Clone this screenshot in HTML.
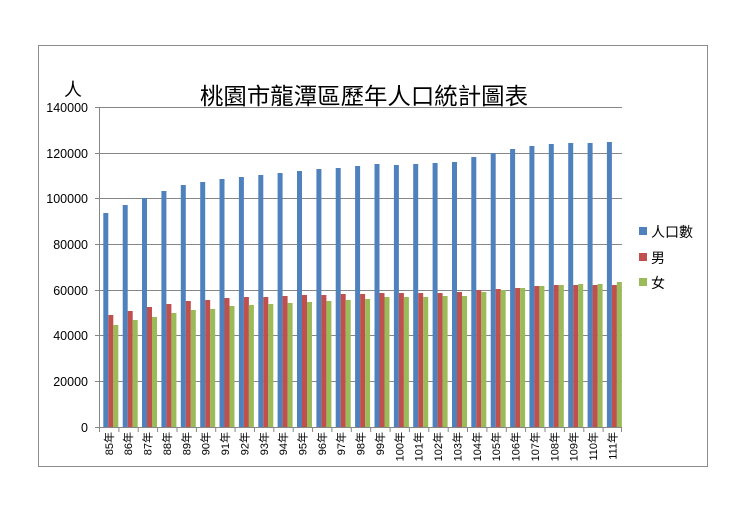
<!DOCTYPE html>
<html><head><meta charset="utf-8"><style>
body{margin:0;background:#fff;}
svg{display:block;font-family:"Liberation Sans","Noto Sans CJK TC",sans-serif;}
</style></head><body>
<svg width="752" height="521" viewBox="0 0 752 521" xmlns="http://www.w3.org/2000/svg">
<rect x="38.5" y="45.5" width="669" height="421" fill="#fff" stroke="#8c8c8c"/>
<text x="364" y="104" font-size="23" text-anchor="middle" textLength="328" lengthAdjust="spacingAndGlyphs" fill="#000">桃園市龍潭區歷年人口統計圖表</text>
<text x="73" y="96" font-size="18" text-anchor="middle">人</text>
<g stroke="#868686" stroke-width="1">
<line x1="99" y1="107.5" x2="622" y2="107.5"/><line x1="99" y1="153.5" x2="622" y2="153.5"/><line x1="99" y1="198.5" x2="622" y2="198.5"/><line x1="99" y1="244.5" x2="622" y2="244.5"/><line x1="99" y1="290.5" x2="622" y2="290.5"/><line x1="99" y1="335.5" x2="622" y2="335.5"/><line x1="99" y1="381.5" x2="622" y2="381.5"/><line x1="95" y1="427.5" x2="622" y2="427.5"/>
<line x1="99.5" y1="107" x2="99.5" y2="427"/>
<line x1="95" y1="107.5" x2="99" y2="107.5"/><line x1="95" y1="153.5" x2="99" y2="153.5"/><line x1="95" y1="198.5" x2="99" y2="198.5"/><line x1="95" y1="244.5" x2="99" y2="244.5"/><line x1="95" y1="290.5" x2="99" y2="290.5"/><line x1="95" y1="335.5" x2="99" y2="335.5"/><line x1="95" y1="381.5" x2="99" y2="381.5"/>
</g>
<g font-size="12.5" text-anchor="end">
<text x="88" y="112">140000</text><text x="88" y="158">120000</text><text x="88" y="203">100000</text><text x="88" y="249">80000</text><text x="88" y="295">60000</text><text x="88" y="340">40000</text><text x="88" y="386">20000</text><text x="88" y="432">0</text>
</g>
<defs><g id="t"><line x1="0.5" y1="427" x2="0.5" y2="432" stroke="#868686"/></g></defs>
<g font-size="11" text-anchor="end">
<g transform="translate(99,0)"><use href="#t"/><rect x="4.3" y="213" width="5" height="214" fill="#4F81BD"/><rect x="9.3" y="315" width="5" height="112" fill="#C0504D"/><rect x="14.3" y="325" width="5" height="102" fill="#9BBB59"/><text transform="translate(13.8,432) rotate(-90)">85年</text></g>
<g transform="translate(118.4,0)"><use href="#t"/><rect x="4.3" y="205" width="5" height="222" fill="#4F81BD"/><rect x="9.3" y="311" width="5" height="116" fill="#C0504D"/><rect x="14.3" y="320" width="5" height="107" fill="#9BBB59"/><text transform="translate(13.8,432) rotate(-90)">86年</text></g>
<g transform="translate(137.7,0)"><use href="#t"/><rect x="4.3" y="198" width="5" height="229" fill="#4F81BD"/><rect x="9.3" y="307" width="5" height="120" fill="#C0504D"/><rect x="14.3" y="317" width="5" height="110" fill="#9BBB59"/><text transform="translate(13.8,432) rotate(-90)">87年</text></g>
<g transform="translate(157.1,0)"><use href="#t"/><rect x="4.3" y="191" width="5" height="236" fill="#4F81BD"/><rect x="9.3" y="304" width="5" height="123" fill="#C0504D"/><rect x="14.3" y="313" width="5" height="114" fill="#9BBB59"/><text transform="translate(13.8,432) rotate(-90)">88年</text></g>
<g transform="translate(176.5,0)"><use href="#t"/><rect x="4.3" y="185" width="5" height="242" fill="#4F81BD"/><rect x="9.3" y="301" width="5" height="126" fill="#C0504D"/><rect x="14.3" y="310" width="5" height="117" fill="#9BBB59"/><text transform="translate(13.8,432) rotate(-90)">89年</text></g>
<g transform="translate(195.9,0)"><use href="#t"/><rect x="4.3" y="182" width="5" height="245" fill="#4F81BD"/><rect x="9.3" y="300" width="5" height="127" fill="#C0504D"/><rect x="14.3" y="309" width="5" height="118" fill="#9BBB59"/><text transform="translate(13.8,432) rotate(-90)">90年</text></g>
<g transform="translate(215.2,0)"><use href="#t"/><rect x="4.3" y="179" width="5" height="248" fill="#4F81BD"/><rect x="9.3" y="298" width="5" height="129" fill="#C0504D"/><rect x="14.3" y="306" width="5" height="121" fill="#9BBB59"/><text transform="translate(13.8,432) rotate(-90)">91年</text></g>
<g transform="translate(234.6,0)"><use href="#t"/><rect x="4.3" y="177" width="5" height="250" fill="#4F81BD"/><rect x="9.3" y="297" width="5" height="130" fill="#C0504D"/><rect x="14.3" y="305" width="5" height="122" fill="#9BBB59"/><text transform="translate(13.8,432) rotate(-90)">92年</text></g>
<g transform="translate(254,0)"><use href="#t"/><rect x="4.3" y="175" width="5" height="252" fill="#4F81BD"/><rect x="9.3" y="297" width="5" height="130" fill="#C0504D"/><rect x="14.3" y="304" width="5" height="123" fill="#9BBB59"/><text transform="translate(13.8,432) rotate(-90)">93年</text></g>
<g transform="translate(273.3,0)"><use href="#t"/><rect x="4.3" y="173" width="5" height="254" fill="#4F81BD"/><rect x="9.3" y="296" width="5" height="131" fill="#C0504D"/><rect x="14.3" y="303" width="5" height="124" fill="#9BBB59"/><text transform="translate(13.8,432) rotate(-90)">94年</text></g>
<g transform="translate(292.7,0)"><use href="#t"/><rect x="4.3" y="171" width="5" height="256" fill="#4F81BD"/><rect x="9.3" y="295" width="5" height="132" fill="#C0504D"/><rect x="14.3" y="302" width="5" height="125" fill="#9BBB59"/><text transform="translate(13.8,432) rotate(-90)">95年</text></g>
<g transform="translate(312.1,0)"><use href="#t"/><rect x="4.3" y="169" width="5" height="258" fill="#4F81BD"/><rect x="9.3" y="295" width="5" height="132" fill="#C0504D"/><rect x="14.3" y="301" width="5" height="126" fill="#9BBB59"/><text transform="translate(13.8,432) rotate(-90)">96年</text></g>
<g transform="translate(331.4,0)"><use href="#t"/><rect x="4.3" y="168" width="5" height="259" fill="#4F81BD"/><rect x="9.3" y="294" width="5" height="133" fill="#C0504D"/><rect x="14.3" y="300" width="5" height="127" fill="#9BBB59"/><text transform="translate(13.8,432) rotate(-90)">97年</text></g>
<g transform="translate(350.8,0)"><use href="#t"/><rect x="4.3" y="166" width="5" height="261" fill="#4F81BD"/><rect x="9.3" y="294" width="5" height="133" fill="#C0504D"/><rect x="14.3" y="299" width="5" height="128" fill="#9BBB59"/><text transform="translate(13.8,432) rotate(-90)">98年</text></g>
<g transform="translate(370.2,0)"><use href="#t"/><rect x="4.3" y="164" width="5" height="263" fill="#4F81BD"/><rect x="9.3" y="293" width="5" height="134" fill="#C0504D"/><rect x="14.3" y="297" width="5" height="130" fill="#9BBB59"/><text transform="translate(13.8,432) rotate(-90)">99年</text></g>
<g transform="translate(389.6,0)"><use href="#t"/><rect x="4.3" y="165" width="5" height="262" fill="#4F81BD"/><rect x="9.3" y="293" width="5" height="134" fill="#C0504D"/><rect x="14.3" y="297" width="5" height="130" fill="#9BBB59"/><text transform="translate(13.8,432) rotate(-90)">100年</text></g>
<g transform="translate(408.9,0)"><use href="#t"/><rect x="4.3" y="164" width="5" height="263" fill="#4F81BD"/><rect x="9.3" y="293" width="5" height="134" fill="#C0504D"/><rect x="14.3" y="297" width="5" height="130" fill="#9BBB59"/><text transform="translate(13.8,432) rotate(-90)">101年</text></g>
<g transform="translate(428.3,0)"><use href="#t"/><rect x="4.3" y="163" width="5" height="264" fill="#4F81BD"/><rect x="9.3" y="293" width="5" height="134" fill="#C0504D"/><rect x="14.3" y="296" width="5" height="131" fill="#9BBB59"/><text transform="translate(13.8,432) rotate(-90)">102年</text></g>
<g transform="translate(447.7,0)"><use href="#t"/><rect x="4.3" y="162" width="5" height="265" fill="#4F81BD"/><rect x="9.3" y="292" width="5" height="135" fill="#C0504D"/><rect x="14.3" y="296" width="5" height="131" fill="#9BBB59"/><text transform="translate(13.8,432) rotate(-90)">103年</text></g>
<g transform="translate(467,0)"><use href="#t"/><rect x="4.3" y="157" width="5" height="270" fill="#4F81BD"/><rect x="9.3" y="290" width="5" height="137" fill="#C0504D"/><rect x="14.3" y="292" width="5" height="135" fill="#9BBB59"/><text transform="translate(13.8,432) rotate(-90)">104年</text></g>
<g transform="translate(486.4,0)"><use href="#t"/><rect x="4.3" y="153" width="5" height="274" fill="#4F81BD"/><rect x="9.3" y="289" width="5" height="138" fill="#C0504D"/><rect x="14.3" y="290" width="5" height="137" fill="#9BBB59"/><text transform="translate(13.8,432) rotate(-90)">105年</text></g>
<g transform="translate(505.8,0)"><use href="#t"/><rect x="4.3" y="149" width="5" height="278" fill="#4F81BD"/><rect x="9.3" y="288" width="5" height="139" fill="#C0504D"/><rect x="14.3" y="288" width="5" height="139" fill="#9BBB59"/><text transform="translate(13.8,432) rotate(-90)">106年</text></g>
<g transform="translate(525.1,0)"><use href="#t"/><rect x="4.3" y="146" width="5" height="281" fill="#4F81BD"/><rect x="9.3" y="286" width="5" height="141" fill="#C0504D"/><rect x="14.3" y="286" width="5" height="141" fill="#9BBB59"/><text transform="translate(13.8,432) rotate(-90)">107年</text></g>
<g transform="translate(544.5,0)"><use href="#t"/><rect x="4.3" y="144" width="5" height="283" fill="#4F81BD"/><rect x="9.3" y="285" width="5" height="142" fill="#C0504D"/><rect x="14.3" y="285" width="5" height="142" fill="#9BBB59"/><text transform="translate(13.8,432) rotate(-90)">108年</text></g>
<g transform="translate(563.9,0)"><use href="#t"/><rect x="4.3" y="143" width="5" height="284" fill="#4F81BD"/><rect x="9.3" y="285" width="5" height="142" fill="#C0504D"/><rect x="14.3" y="284" width="5" height="143" fill="#9BBB59"/><text transform="translate(13.8,432) rotate(-90)">109年</text></g>
<g transform="translate(583.3,0)"><use href="#t"/><rect x="4.3" y="143" width="5" height="284" fill="#4F81BD"/><rect x="9.3" y="285" width="5" height="142" fill="#C0504D"/><rect x="14.3" y="284" width="5" height="143" fill="#9BBB59"/><text transform="translate(13.8,432) rotate(-90)">110年</text></g>
<g transform="translate(602.6,0)"><use href="#t"/><rect x="4.3" y="142" width="5" height="285" fill="#4F81BD"/><rect x="9.3" y="285" width="5" height="142" fill="#C0504D"/><rect x="14.3" y="282" width="5" height="145" fill="#9BBB59"/><text transform="translate(13.8,432) rotate(-90)">111年</text></g>
<line x1="621.5" y1="427" x2="621.5" y2="432" stroke="#868686"/>
</g>
<g font-size="14">
<rect x="639" y="227" width="8" height="8" fill="#4F81BD"/><text x="651" y="237">人口數</text>
<rect x="639" y="253" width="8" height="8" fill="#C0504D"/><text x="651" y="263">男</text>
<rect x="639" y="278" width="8" height="8" fill="#9BBB59"/><text x="651" y="288">女</text>
</g>
</svg>
</body></html>
